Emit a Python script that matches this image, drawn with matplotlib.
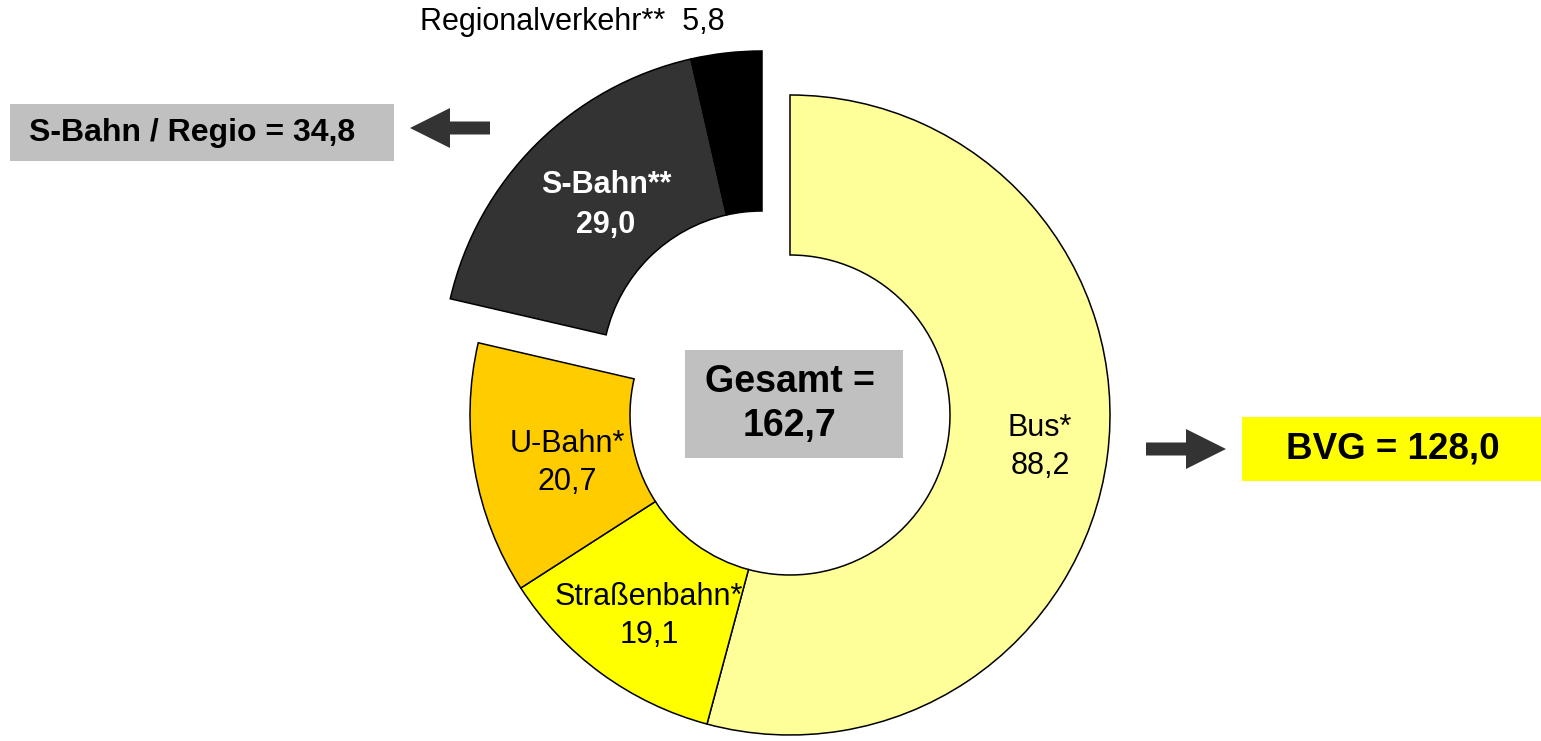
import matplotlib.pyplot as plt
from matplotlib.patches import Rectangle

# Fahrgaeste (Mio.) nach Verkehrsmittel
labels = ['Bus*', 'Straßenbahn*', 'U-Bahn*', 'S-Bahn**', 'Regionalverkehr**']
values = [88.2, 19.1, 20.7, 29.0, 5.8]
colors = ['#FFFF99', '#FFFF00', '#FFCC00', '#333333', '#000000']
total_label = '162,7'
bvg_label = '128,0'
sbahn_regio_label = '34,8'


def fmt(v):
    return f'{v:.1f}'.replace('.', ',')


plt.rcParams['font.family'] = ['Liberation Sans', 'DejaVu Sans']

fig = plt.figure(figsize=(15.41, 7.41), dpi=100)
ax = fig.add_axes([0, 0, 1, 1])

# donut, starting at 12 o'clock, clockwise
wedges, _ = ax.pie(values, radius=320, center=(790, 326), startangle=90,
                   counterclock=False, colors=colors,
                   wedgeprops=dict(width=160, edgecolor='black', linewidth=1.1))

# S-Bahn and Regionalverkehr pulled out together
for w in wedges[3:]:
    w.set_center((790 - 28, 326 + 44))

ax.set_xlim(0, 1541)
ax.set_ylim(0, 741)
ax.set_aspect('equal')
ax.axis('off')

# segment labels (y measured from the top of the picture)
H = 741
ax.text(1040, H - 447, f'{labels[0]}\n{fmt(values[0])}', ha='center', va='center',
        fontsize=22, linespacing=1.35)
ax.text(649, H - 616, f'{labels[1]}\n{fmt(values[1])}', ha='center', va='center',
        fontsize=22, linespacing=1.35)
ax.text(567, H - 463, f'{labels[2]}\n{fmt(values[2])}', ha='center', va='center',
        fontsize=22, linespacing=1.35)
ax.text(606, H - 205, f'{labels[3]}\n{fmt(values[3])}', ha='center', va='center',
        fontsize=22, linespacing=1.4, color='white', fontweight='bold')
ax.text(572, H - 22, f'{labels[4]}  {fmt(values[4])}', ha='center', va='center',
        fontsize=22)

# summary boxes
ax.add_patch(Rectangle((685, H - 458), 218, 108, facecolor='#C0C0C0', edgecolor='none'))
ax.text(790, H - 404, f'Gesamt =\n{total_label}', ha='center', va='center',
        fontsize=27, fontweight='bold', linespacing=1.25)

ax.add_patch(Rectangle((10, H - 161), 384, 57, facecolor='#C0C0C0', edgecolor='none'))
ax.text(192, H - 133, f'S-Bahn / Regio = {sbahn_regio_label}', ha='center', va='center',
        fontsize=23, fontweight='bold')

ax.add_patch(Rectangle((1242, H - 481), 300, 64, facecolor='#FFFF00', edgecolor='none'))
ax.text(1393, H - 449, f'BVG = {bvg_label}', ha='center', va='center',
        fontsize=26.5, fontweight='bold')

# block arrows
ax.arrow(490, H - 128, -80, 0, width=13, head_width=40, head_length=40,
         length_includes_head=True, facecolor='#333333', edgecolor='none')
ax.arrow(1146, H - 449, 80, 0, width=13, head_width=40, head_length=40,
         length_includes_head=True, facecolor='#333333', edgecolor='none')

fig.savefig('out.png', dpi=100)
